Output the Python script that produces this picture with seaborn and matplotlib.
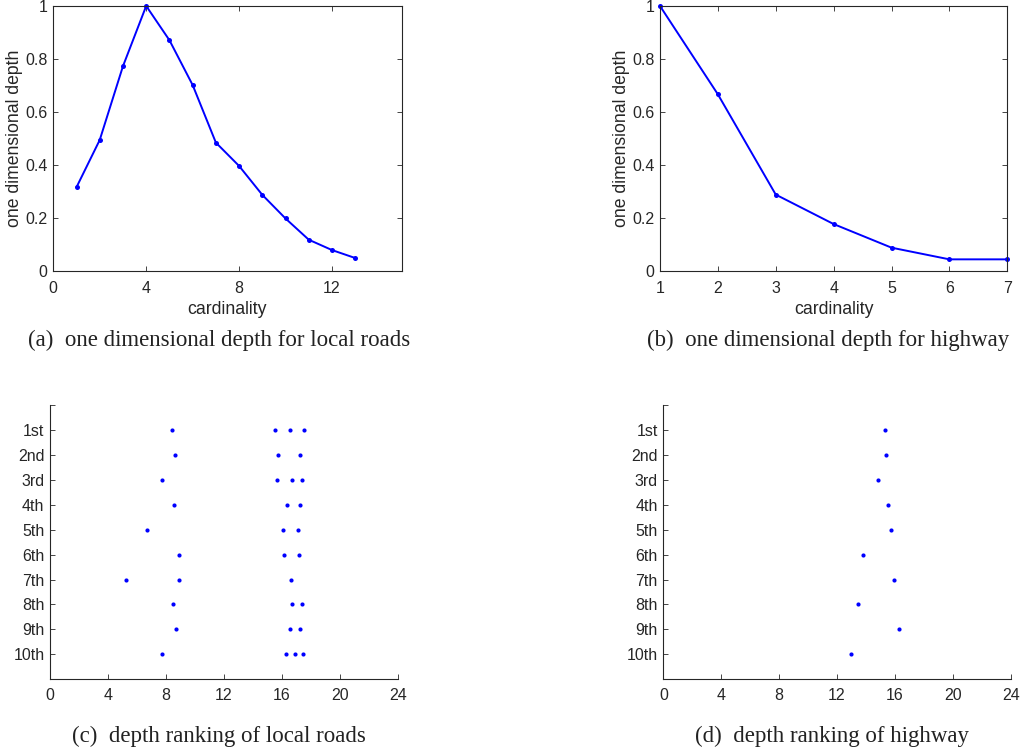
import numpy as np
import pandas as pd
import matplotlib
matplotlib.use("Agg")
import matplotlib.pyplot as plt
import seaborn as sns

# ---- data -------------------------------------------------------------
local_card = [1, 2, 3, 4, 5, 6, 7, 8, 9, 10, 11, 12, 13]
local_depth = [0.317, 0.495, 0.773, 1.0, 0.871, 0.702, 0.485, 0.397,
               0.288, 0.199, 0.119, 0.080, 0.050]

hw_card = [1, 2, 3, 4, 5, 6, 7]
hw_depth = [1.0, 0.667, 0.289, 0.178, 0.089, 0.045, 0.045]

rank_labels = ["1st", "2nd", "3rd", "4th", "5th", "6th", "7th", "8th", "9th", "10th"]

# depth values of the sampled local roads for each rank
local_rank_vals = [
    [8.44, 15.53, 16.59, 17.53],
    [8.65, 15.74, 17.23],
    [7.75, 15.67, 16.68, 17.42],
    [8.58, 16.34, 17.28],
    [6.67, 16.06, 17.12],
    [8.88, 16.15, 17.17],
    [5.25, 8.90, 16.66],
    [8.49, 16.73, 17.42],
    [8.67, 16.57, 17.23],
    [7.75, 16.29, 16.89, 17.44],
]

hw_rank_vals = [15.32, 15.36, 14.85, 15.55, 15.73, 13.80, 15.91, 13.43, 16.26, 12.99]

captions = [
    "(a)  one dimensional depth for local roads",
    "(b)  one dimensional depth for highway",
    "(c)  depth ranking of local roads",
    "(d)  depth ranking of highway",
]

# ---- styling ----------------------------------------------------------
sns.set_theme(style="white")
plt.rcParams["font.family"] = ["Liberation Sans", "DejaVu Sans"]
AX_COL = "#262626"
BLUE = "#0000ff"
plt.rcParams.update({
    "axes.edgecolor": AX_COL,
    "axes.linewidth": 0.8,
    "xtick.color": AX_COL,
    "ytick.color": AX_COL,
    "axes.labelcolor": AX_COL,
    "xtick.direction": "in",
    "ytick.direction": "in",
    "xtick.major.size": 3.5,
    "ytick.major.size": 3.5,
    "xtick.major.width": 0.6,
    "ytick.major.width": 0.6,
    "xtick.labelsize": 11.5,
    "ytick.labelsize": 11.5,
    "axes.labelsize": 12.7,
})

fig = plt.figure(figsize=(10.21, 7.54), dpi=100)

ax_a = fig.add_axes([0.0522, 0.6402, 0.3412, 0.3519])
ax_b = fig.add_axes([0.6464, 0.6402, 0.3402, 0.3519])
ax_c = fig.add_axes([0.0490, 0.0991, 0.3405, 0.3638])
ax_d = fig.add_axes([0.6497, 0.0991, 0.3402, 0.3638])

# ---- depth vs cardinality --------------------------------------------
df_local = pd.DataFrame({"cardinality": local_card, "depth": local_depth})
df_hw = pd.DataFrame({"cardinality": hw_card, "depth": hw_depth})

for ax, df, xlim, xticks in [
    (ax_a, df_local, (0, 15), [0, 4, 8, 12]),
    (ax_b, df_hw, (1, 7), [1, 2, 3, 4, 5, 6, 7]),
]:
    sns.lineplot(data=df, x="cardinality", y="depth", ax=ax, color=BLUE,
                 linewidth=1.4, marker="o", markersize=3.6, markeredgewidth=0,
                 clip_on=False)
    ax.set_xlim(*xlim)
    ax.set_ylim(0, 1)
    ax.set_xticks(xticks)
    ax.set_xticklabels([str(t) for t in xticks])
    ax.set_yticks([0, 0.2, 0.4, 0.6, 0.8, 1])
    ax.set_yticklabels(["0", "0.2", "0.4", "0.6", "0.8", "1"])
    ax.set_xlabel("cardinality", labelpad=3.5)
    ax.set_ylabel("one dimensional depth", labelpad=1.5)
    ax.tick_params(top=True, right=True, bottom=True, left=True)
    ax.tick_params(axis="x", pad=7)
    ax.tick_params(axis="y", pad=4)
    for s in ax.spines.values():
        s.set_visible(True)

# ---- depth ranking scatter -------------------------------------------
rows = []
for i, vals in enumerate(local_rank_vals):
    for v in vals:
        rows.append({"rank": i + 1, "depth": v})
df_local_rank = pd.DataFrame(rows)
df_hw_rank = pd.DataFrame({"rank": np.arange(1, len(hw_rank_vals) + 1),
                           "depth": hw_rank_vals})

for ax, df in [(ax_c, df_local_rank), (ax_d, df_hw_rank)]:
    sns.scatterplot(data=df, x="depth", y="rank", ax=ax, color=BLUE,
                    s=9, linewidth=0)
    ax.set_xlim(0, 24)
    ax.set_ylim(11, 0)
    ax.set_xticks([0, 4, 8, 12, 16, 20, 24])
    ax.set_xticklabels(["0", "4", "8", "12", "16", "20", "24"])
    ax.set_yticks(range(0, 12))
    ax.set_yticklabels([""] + rank_labels + [""])
    ax.set_xlabel("")
    ax.set_ylabel("")
    ax.tick_params(top=False, right=False, bottom=True, left=True)
    ax.tick_params(axis="x", pad=6)
    ax.tick_params(axis="y", pad=4)
    for side in ("top", "right"):
        ax.spines[side].set_visible(False)

# ---- captions ---------------------------------------------------------
cap_kw = dict(ha="center", va="center", fontsize=16.5,
              family=["Liberation Serif", "DejaVu Serif"], color="#222222")
fig.text(219 / 1021, 1 - 340 / 754, captions[0], **cap_kw)
fig.text(828 / 1021, 1 - 340 / 754, captions[1], **cap_kw)
fig.text(219 / 1021, 1 - 736 / 754, captions[2], **cap_kw)
fig.text(832 / 1021, 1 - 736 / 754, captions[3], **cap_kw)

fig.savefig("out.png", dpi=100)
